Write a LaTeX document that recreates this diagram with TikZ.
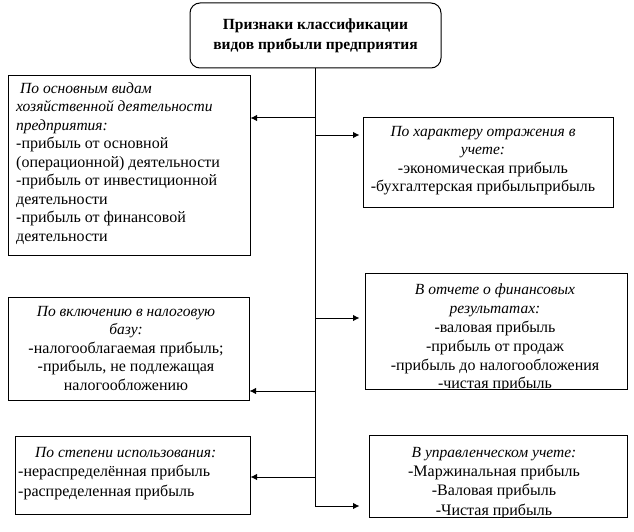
\documentclass[tikz,border=0pt]{standalone}
\usepackage{fontspec}
\setmainfont{Liberation Serif}
\usetikzlibrary{arrows.meta}
\newcommand\hd[1]{{\fontsize{15.5}{18.5}\selectfont\itshape #1}}
\begin{document}
\begin{tikzpicture}[x=1pt,y=-1pt,
  box/.style={draw, line width=1pt, inner sep=0pt},
  txt/.style={font=\fontsize{16}{18.5}\selectfont, inner sep=0pt},
  arr/.style={line width=1pt, -{Latex[length=6.5pt,width=6.5pt]}}]
\useasboundingbox (0,0) rectangle (634,532);
% top box
\node[box, rounded corners=10pt, minimum width=251pt, minimum height=65pt,
      font=\bfseries\fontsize{15.5}{20}\selectfont, align=center] (top) at (315.5,35.5)
  {Признаки классификации\\видов прибыли предприятия};
% left box 1
\node[box, minimum width=242pt, minimum height=179pt] (l1) at (129,165.5) {};
\node[txt, align=left, anchor=north west] (l1t) at (16,80)
  {\strut\ \hd{По основным видам}\\\hd{хозяйственной деятельности}\\\hd{предприятия:}\\-прибыль от основной\\(операционной) деятельности\\-прибыль от инвестиционной\\деятельности\\-прибыль от финансовой\\деятельности};
% right box 1
\node[box, minimum width=250pt, minimum height=89pt] (r1) at (488,162.5) {};
\node[txt, align=center, anchor=north] (r1t) at (483,123)
  {\strut\hd{По характеру отражения в}\\\hd{учете:}\\-экономическая прибыль\\-бухгалтерская прибыльприбыль};
% right box 2
\node[box, minimum width=262pt, minimum height=116pt] (r2) at (496,331) {};
\begin{scope}
\clip (r2.north west) rectangle (r2.south east);
\node[txt, align=center, anchor=north, font=\fontsize{16}{18.9}\selectfont] (r2t) at (495,281)
  {\strut\hd{В отчете о финансовых}\\\hd{результатах:}\\-валовая прибыль\\-прибыль от продаж\\-прибыль до налогообложения\\-чистая прибыль};
\end{scope}
% left box 2
\node[box, minimum width=241pt, minimum height=103pt] (l2) at (128.5,348.5) {};
\node[txt, align=center, anchor=north] (l2t) at (126,303)
  {\strut\hd{По включению в налоговую}\\\hd{базу:}\\-налогооблагаемая прибыль;\\-прибыль, не подлежащая\\налогообложению};
% left box 3
\node[box, minimum width=235pt, minimum height=78pt] (l3) at (132.5,475) {};
\node[txt, align=left, anchor=north west, font=\fontsize{16}{19.2}\selectfont] (l3t) at (18,444)
  {\strut\hspace*{17pt}\hd{По степени использования:}\\-нераспределённая прибыль\\-распределенная прибыль};
% right box 4
\node[box, minimum width=258pt, minimum height=82pt] (r4) at (498,476) {};
\begin{scope}
\clip (r4.north west) rectangle (r4.south east);
\node[txt, align=center, anchor=north, font=\fontsize{16}{19.3}\selectfont] (r4t) at (494,443.5)
  {\strut\hd{В управленческом учете:}\\-Маржинальная прибыль\\-Валовая прибыль\\-Чистая прибыль};
\end{scope}
% connectors
\coordinate (b1) at (316,118);
\coordinate (b2) at (316,135);
\coordinate (b3) at (316,318);
\coordinate (b4) at (316,391);
\coordinate (b5) at (316,477);
\coordinate (b6) at (316,506);
\draw[arr, shorten >=9pt] (top.south) |- (r4.west |- b6);
\draw[arr] (b1) -- (l1.east |- b1);
\draw[arr, shorten >=3pt] (b2) -- (r1.west |- b2);
\draw[arr, shorten >=5pt] (b3) -- (r2.west |- b3);
\draw[arr] (b4) -- (l2.east |- b4);
\draw[arr] (b5) -- (l3.east |- b5);
\end{tikzpicture}
\end{document}
